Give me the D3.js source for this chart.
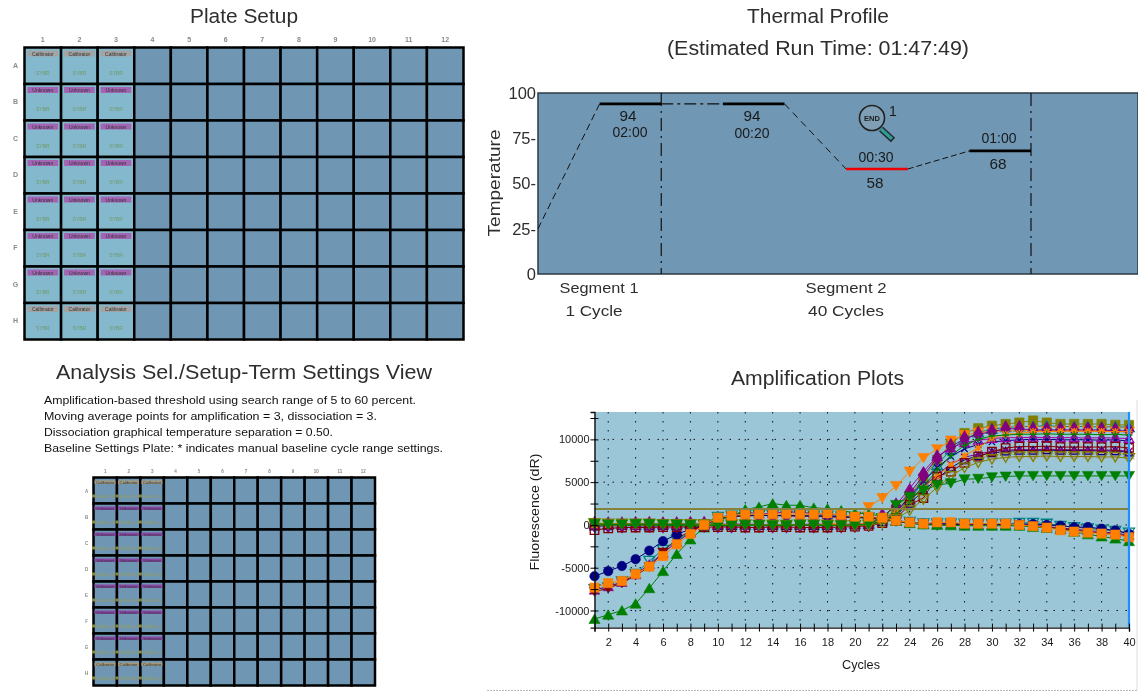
<!DOCTYPE html>
<html><head><meta charset="utf-8">
<script src="https://cdn.jsdelivr.net/npm/d3@7"></script>
<style>
html,body{margin:0;padding:0;background:#fff}
svg{display:block;filter:blur(0.55px)}
text{font-family:"Liberation Sans",Arial,sans-serif;fill:#1a1a1a}
</style></head><body>
<svg id="c" width="1138" height="693"></svg>
<script>
// ---------- data ----------
const plateRows = ["A","B","C","D","E","F","G","H"];
const plateCols = [1,2,3,4,5,6,7,8,9,10,11,12];
const usedCols = [1,2,3];
const rowWellTypes = ["Calibrator","Unknown","Unknown","Unknown","Unknown","Unknown","Unknown","Calibrator"];
const dyeName = "SYBR";
const settingsLines = [
 "Amplification-based threshold using search range of 5 to 60 percent.",
 "Moving average points for amplification = 3, dissociation = 3.",
 "Dissociation graphical temperature separation = 0.50.",
 "Baseline Settings Plate: * indicates manual baseline cycle range settings."];

const thermalSlots = [0,1,2,3,4,5,6,7,8];
const thermalTemps = [25,94,94,94,94,58,58,68,68];
const thermalTicks = [0,25,50,75,100];
const segmentBounds = [2,8];

const cycles = d3.range(1,41);
const ampMajorTicks = [-10000,-5000,0,5000,10000];
const ampMinorTicks = [-7500,-2500,2500,7500,12500];
const thresholdLevel = 1850;

const ampOliveSquare = [100,50,100,100,100,100,100,100,50,0,0,50,50,50,0,0,-50,-50,0,50,100,500,1800,3400,5500,7600,9500,10730,11300,11600,11800,11960,12200,11960,11800,11800,11800,11800,11700,11680];
const ampTealTri = [150,100,100,50,50,100,100,150,100,50,50,0,0,50,50,0,0,50,50,100,150,600,1500,3000,5000,7000,8800,10000,10800,11200,11400,11500,11500,11600,11500,11500,11500,11450,11500,11400];
const ampGreenPlus = [-50,0,-50,-50,0,-50,-50,-100,-50,0,0,-50,-50,-50,0,0,0,-50,-50,0,50,400,1300,2700,4500,6400,8100,9300,10000,10400,10500,10600,10600,10650,10600,10600,10600,10550,10600,10500];
const ampNavyX = [-100,-50,-50,0,0,-50,-50,0,0,-50,-100,-100,-50,-50,0,-50,-50,-100,-50,-50,50,500,1500,3300,5100,6700,8000,8900,9400,9700,9850,9950,10000,10000,9950,9950,9950,9900,9950,9800];
const ampOliveTriDown = [200,150,150,150,150,100,100,100,100,50,50,50,0,0,0,50,50,0,-50,-50,0,200,700,1700,3000,4400,5700,6700,7300,7700,7900,8000,8000,8050,8000,8000,8000,7950,7950,7800];
const ampGreyTri = [50,0,50,50,0,0,50,50,0,-50,-50,0,0,0,50,50,0,0,0,50,100,300,1000,2200,3700,5200,6500,7400,7900,8100,8250,8300,8300,8350,8300,8300,8300,8250,8300,8200];
const ampNavyTri = [-150,-100,-100,-100,-150,-100,-100,-100,-50,-100,-100,-50,-100,-100,-100,-50,-100,-100,-50,0,50,350,1200,2500,4000,5400,6700,7600,8100,8400,8600,8700,8700,8750,8700,8700,8700,8650,8650,8500];
const ampPurpleX = [0,-50,-50,0,0,0,-50,-50,0,0,50,50,0,0,0,50,0,0,50,50,100,400,1400,2900,4500,5900,7100,7900,8300,8600,8750,8800,8800,8850,8800,8800,8800,8750,8750,8600];
const ampRedSquare = [-600,-400,-300,-300,-300,-250,-250,-250,-250,-250,-250,-300,-300,-250,-250,-300,-300,-300,-250,-200,-100,200,800,2340,3150,5650,6240,7250,7990,8570,8980,9160,9150,9200,9100,9100,9100,9100,9150,9000];
const ampGreenTriDown = [100,50,50,100,100,50,50,0,0,-50,-50,0,0,-50,-50,0,0,-50,-50,0,100,800,2340,3310,4010,4680,4870,5340,5400,5580,5660,5730,5730,5730,5730,5730,5730,5730,5730,5730];
const ampMagentaTri = [50,50,0,0,50,50,50,0,0,50,100,100,50,50,50,50,100,50,50,100,200,900,2300,4300,6240,8000,9000,9600,9900,10100,10200,10200,10250,10200,10200,10200,10150,10200,10150,10100];
const ampOrangeTriDown = [-50,-50,-50,0,0,-50,0,0,-50,0,0,50,50,50,0,0,50,100,300,700,2100,3150,4560,6240,7830,8860,9860,10500,10800,10950,11000,11000,11050,11000,11000,11050,11000,11000,10950,10900];
const ampPurpleDiamond = [50,0,0,50,50,0,0,50,50,0,0,0,50,0,0,50,0,0,0,50,150,1000,2200,3700,5800,7830,9160,10060,10600,10900,11230,11250,11100,11100,11100,11100,11100,11100,11000,11000];
const ampOrangeStar = [0,50,0,-50,0,50,0,0,0,50,50,0,0,50,0,0,50,0,50,100,200,550,1500,2800,4300,5700,7000,8100,9000,10140,10600,10700,10900,10900,10950,10950,10950,10950,10900,10900];

const lowTealTri = [-7500,-7300,-6600,-5700,-4200,-2900,-1800,-800,100,950,1100,1150,1150,1150,1100,1150,1100,1100,1000,950,900,800,500,350,200,200,200,150,150,150,150,250,250,150,-100,-250,-400,-550,-700,-900];
const lowPurpleTri = [-7600,-7200,-6700,-5800,-4600,-3300,-2000,-900,0,800,1100,1500,1300,1350,1500,1500,1300,1250,1100,950,850,750,450,250,100,100,100,50,50,50,50,50,-50,-200,-350,-500,-650,-800,-950,-1200];
const lowRedTri = [-7800,-7400,-6800,-5900,-4900,-3200,-1600,-700,-50,700,950,1050,1100,1100,1050,1050,1000,950,900,850,800,700,400,200,50,0,0,0,0,0,0,0,-100,-250,-450,-600,-800,-950,-1100,-1300];
const lowNavyCircle = [-6000,-5400,-4800,-4000,-3000,-1900,-1100,-500,0,750,1000,1150,1100,1100,1100,1050,1050,1000,950,900,900,800,500,300,150,150,100,100,100,50,50,100,100,0,-100,-270,-250,-450,-650,-1050];
const lowGreenTri = [-11000,-10500,-10000,-9200,-7400,-5400,-3400,-1700,-300,600,1000,1800,2100,2500,2300,2300,2000,1900,1700,1400,1300,1000,500,200,50,0,-50,-100,-100,-100,-100,-100,-250,-350,-500,-800,-1100,-1350,-1600,-1900];
const lowOrangeSquare = [-7330,-6800,-6550,-5730,-4870,-3630,-2260,-1050,0,850,1090,1250,1250,1250,1300,1250,1250,1350,1170,970,970,850,500,310,150,310,310,150,150,150,150,0,-150,-310,-620,-780,-900,-1010,-1130,-1440];

// ---------- styles (separate from data) ----------
const triDown = {draw(ctx,s){const h=Math.sqrt(s*1.3);ctx.moveTo(-h*0.62,-h*0.5);ctx.lineTo(h*0.62,-h*0.5);ctx.lineTo(0,h*0.55);ctx.closePath();}};
const triUp = {draw(ctx,s){const h=Math.sqrt(s*1.3);ctx.moveTo(-h*0.62,h*0.5);ctx.lineTo(h*0.62,h*0.5);ctx.lineTo(0,-h*0.55);ctx.closePath();}};
const xMark = {draw(ctx,s){const r=Math.sqrt(s)/2;ctx.moveTo(-r,-r);ctx.lineTo(r,r);ctx.moveTo(r,-r);ctx.lineTo(-r,r);}};
const star = {draw(ctx,s){const r=Math.sqrt(s)/2;ctx.moveTo(-r,-r);ctx.lineTo(r,r);ctx.moveTo(r,-r);ctx.lineTo(-r,r);ctx.moveTo(0,-r*1.2);ctx.lineTo(0,r*1.2);ctx.moveTo(-r*1.2,0);ctx.lineTo(r*1.2,0);}};
const plus = {draw(ctx,s){const r=Math.sqrt(s)/2;ctx.moveTo(0,-r);ctx.lineTo(0,r);ctx.moveTo(-r,0);ctx.lineTo(r,0);}};
const seriesDraw = [
 [ampOliveSquare,"#808000",d3.symbolSquare,88,true],
 [ampTealTri,"#008080",triUp,55,false],
 [ampNavyX,"#000080",xMark,40,false],
 [ampGreyTri,"#a8a8a8",triUp,55,true],
 [ampNavyTri,"#000080",triUp,40,false],
 [ampPurpleX,"#800080",xMark,50,false],
 [ampMagentaTri,"#a000a0",triUp,45,false],
 [ampOrangeTriDown,"#ff8000",triDown,62,true],
 [lowTealTri,"#008080",triDown,60,false],
 [lowPurpleTri,"#800080",triUp,55,true],
 [lowRedTri,"#800000",triDown,55,true],
 [lowNavyCircle,"#000080",d3.symbolCircle,70,true],
 [lowGreenTri,"#008000",triUp,62,true],
 [ampPurpleDiamond,"#800080",d3.symbolDiamond,80,true],
 [ampOrangeStar,"#ff8000",star,36,false],
 [ampRedSquare,"#800000",d3.symbolSquare,72,false],
 [ampGreenPlus,"#008000",plus,45,false],
 [ampOliveTriDown,"#808000",triDown,62,false],
 [ampGreenTriDown,"#008000",triDown,62,true],
 [lowOrangeSquare,"#ff8000",d3.symbolSquare,85,true]
];

const svg = d3.select("#c");
function label(g,x,y,t,size,o={}){
  const el=g.append("text").attr("x",x).attr("y",y).attr("text-anchor",o.anchor||"middle")
   .style("font-size",size+"px").text(t);
  if(o.fill) el.style("fill",o.fill);
  if(o.weight) el.style("font-weight",o.weight);
  if(o.len) el.attr("textLength",o.len).attr("lengthAdjust","spacingAndGlyphs");
  if(o.rotate) el.attr("transform",`rotate(-90,${x},${y})`);
  return el;
}

// titles
const tc="#2e2e2e";
label(svg,244,23,"Plate Setup",20.5,{fill:tc,len:108});
label(svg,818,23,"Thermal Profile",20.5,{fill:tc,len:142});
label(svg,818,55,"(Estimated Run Time: 01:47:49)",20.5,{fill:tc,len:302});
label(svg,244,379,"Analysis Sel./Setup-Term Settings View",20.5,{fill:tc,len:376});
label(svg,817.5,385,"Amplification Plots",20.5,{fill:tc,len:173});
const settingsLens = [372,333,289,399];
const settingsY = d3.scalePoint().domain(settingsLines).range([404,452]);
settingsLines.forEach((l,i)=>label(svg,44,settingsY(l),l,11.5,{anchor:"start",fill:"#111",len:settingsLens[i]}));

// plates
function plate(x0,y0,w,h,o){
  const g=svg.append("g");
  const X=d3.scaleBand().domain(plateCols).range([x0,x0+w]);
  const Y=d3.scaleBand().domain(plateRows).range([y0,y0+h]);
  const gr="#8a8a8a";
  plateCols.forEach(c=>label(g,X(c)+X.bandwidth()/2,y0-o.colGap,c,o.hdr,{fill:gr,weight:"bold"}));
  plateRows.forEach(r=>label(g,x0-o.rowGap,Y(r)+Y.bandwidth()/2+2,r,o.hdr,{fill:gr,weight:"bold"}));
  plateRows.forEach((r,ri)=>plateCols.forEach(c=>{
    const x=X(c),y=Y(r),bw=X.bandwidth(),bh=Y.bandwidth();
    const used=usedCols.includes(c);
    g.append("rect").attr("x",x).attr("y",y).attr("width",bw).attr("height",bh)
      .attr("fill",used&&o.tint?"#84b8cc":"#6f97b4").attr("stroke","#000").attr("stroke-width",o.sw);
    if(!used) return;
    const t=rowWellTypes[ri];
    if(o.tint){
      g.append("rect").attr("x",x+3).attr("y",y+3).attr("width",bw-6).attr("height",6)
        .attr("fill",t==="Calibrator"?"#a3a3a3":"#a364b4");
      label(g,x+bw/2,y+8,t,5,{fill:"#333"});
      label(g,x+bw/2,y+27,dyeName,5,{fill:"#6f9a6a"});
    } else {
      g.append("rect").attr("x",x+1).attr("y",y+3).attr("width",bw-2).attr("height",3.5)
        .attr("fill",t==="Calibrator"?"#a39a80":"#8a48a8");
      label(g,x+bw/2,y+6,t,4.2,{fill:"#333"});
      g.append("rect").attr("x",x-1.5).attr("y",y+bh-9).attr("width",3).attr("height",3).attr("fill","#8a8a30");
      label(g,x+bw/2,y+bh-6,dyeName+" "+(ri+1)+".0",4.2,{fill:"#a09a50"});
    }
  }));
}
plate(24.5,47.5,439,292,{tint:true,sw:2.5,hdr:7,colGap:6,rowGap:9});
plate(93.5,477.5,281.5,208,{tint:false,sw:2.5,hdr:4.5,colGap:5,rowGap:7});

// thermal profile
const tx=d3.scaleLinear().domain([0,8]).range([538,1031]);
const ty=d3.scaleLinear().domain([0,100]).range([274,93]);
const tg=svg.append("g");
tg.append("rect").attr("x",tx(0)).attr("y",ty(100)).attr("width",600).attr("height",ty(0)-ty(100))
  .attr("fill","#7097b3").attr("stroke","#2b3a44").attr("stroke-width",1.5);
const tAxis=tg.append("g").attr("transform",`translate(${tx(0)-1},0)`)
  .call(d3.axisLeft(ty).tickValues(thermalTicks).tickSize(0).tickPadding(1)
    .tickFormat(v=>(v===0||v===100)?v:v+"-"));
tAxis.select(".domain").remove();
tAxis.selectAll("text").style("font-size","16.5px").style("font-family",'"Liberation Sans"').style("fill",tc);
label(tg,500,183,"Temperature",16.5,{rotate:true,len:107,fill:tc});
segmentBounds.forEach(s=>tg.append("line").attr("x1",tx(s)).attr("x2",tx(s)).attr("y1",ty(100)).attr("y2",ty(0))
  .attr("stroke","#111").attr("stroke-width",1.2).attr("stroke-dasharray","13 5 2 5"));
const pt=i=>[tx(thermalSlots[i]),ty(thermalTemps[i])];
const seg=(i,col,w,dash)=>{
  const a=pt(i),b=pt(i+1);
  const l=tg.append("line").attr("x1",a[0]).attr("y1",a[1]).attr("x2",b[0]).attr("y2",b[1]).attr("stroke",col).attr("stroke-width",w);
  if(dash) l.attr("stroke-dasharray",dash);
};
seg(0,"#111",1,"7 4");seg(1,"#000",2.6);seg(2,"#111",1.2,"12 4 3 4");seg(3,"#000",2.6);
seg(4,"#111",1,"7 5");seg(5,"#f00000",2.6);seg(6,"#111",1,"6 3");seg(7,"#000",2.6);
const tl=(x,y,t,len)=>label(tg,x,y,t,14.5,{len});
tl(628,121,"94",17);tl(630,137,"02:00",35);tl(752,121,"94",17);tl(752,138,"00:20",35);
tl(876,162,"00:30",35);tl(875,188,"58",17);tl(999,143,"01:00",35);tl(998,169,"68",17);
label(tg,599,293,"Segment 1",15,{len:79,fill:tc});label(tg,594,316,"1 Cycle",15,{len:57,fill:tc});
label(tg,846,293,"Segment 2",15,{len:81,fill:tc});label(tg,846,316,"40 Cycles",15,{len:76,fill:tc});
// END marker
tg.append("line").attr("x1",881).attr("y1",129).attr("x2",893).attr("y2",140).attr("stroke","#222").attr("stroke-width",6);
tg.append("line").attr("x1",881).attr("y1",129).attr("x2",892).attr("y2",139).attr("stroke","#2f9a98").attr("stroke-width",3.5);
tg.append("circle").attr("cx",872).attr("cy",118).attr("r",12.5).attr("fill","#7f9fb7").attr("stroke","#222").attr("stroke-width",1.6);
label(tg,872,121,"END",7.5,{weight:"bold"});
label(tg,893,116,"1",14);

// amplification plot
const ax=d3.scaleLinear().domain([1,40]).range([594.5,1129]);
const ay=d3.scaleLinear().domain([-12000,13200]).range([627.6,412]);
const ag=svg.append("g");
ag.append("rect").attr("x",ax(1)).attr("y",ay(13200)).attr("width",ax(40)-ax(1)).attr("height",ay(-12000)-ay(13200)).attr("fill","#9bc6d8");
const dots="1.5 7.5";
cycles.filter(c=>c%2===0&&c<40).forEach(c=>ag.append("line").attr("x1",ax(c)).attr("x2",ax(c)).attr("y1",ay(13200)).attr("y2",ay(-12000)).attr("stroke","#111").attr("stroke-width",1).attr("stroke-dasharray",dots));
ampMajorTicks.forEach(v=>ag.append("line").attr("x1",ax(1)).attr("x2",ax(40)).attr("y1",ay(v)).attr("y2",ay(v)).attr("stroke","#111").attr("stroke-width",1).attr("stroke-dasharray",dots));

const lineGen=d3.line().x((d,i)=>ax(cycles[i])).y(d=>ay(d));
const sg=ag.append("g");
seriesDraw.forEach(([vals,col,sym,size,filled])=>{
  sg.append("path").attr("d",lineGen(vals)).attr("fill","none").attr("stroke",col).attr("stroke-width",1);
  const open=(sym===xMark||sym===star||sym===plus);
  const path=d3.symbol().type(sym).size(size)();
  vals.forEach((v,i)=>sg.append("path").attr("d",path).attr("transform",`translate(${ax(cycles[i])},${ay(v)})`)
    .attr("fill",filled?col:"none").attr("stroke",col).attr("stroke-width",open?1.3:(filled?0.6:1.3)));
});
ag.append("line").attr("x1",ax(1)).attr("x2",ax(40)).attr("y1",ay(thresholdLevel)).attr("y2",ay(thresholdLevel)).attr("stroke","#85813f").attr("stroke-width",2);
ag.append("line").attr("x1",ax(40)).attr("x2",ax(40)).attr("y1",ay(13200)).attr("y2",ay(-12000)).attr("stroke","#1e8fff").attr("stroke-width",2.2);

const xAxis=ag.append("g").attr("transform",`translate(0,${ay(-12000)})`)
  .call(d3.axisBottom(ax).tickValues(cycles).tickSize(4).tickPadding(7).tickFormat(c=>c%2===0?c:""));
xAxis.selectAll(".tick line").attr("y1",-4);
const yAxis=ag.append("g").attr("transform",`translate(${ax(1)},0)`)
  .call(d3.axisLeft(ay).tickValues(ampMajorTicks.concat(ampMinorTicks)).tickSize(4).tickPadding(1).tickFormat(v=>ampMajorTicks.includes(v)?v:""));
yAxis.selectAll(".tick line").attr("x1",-4).attr("x2",4);
[xAxis,yAxis].forEach(a=>{
  a.selectAll("text").style("font-size","11px").style("font-family",'"Liberation Sans"');
  a.select(".domain").attr("stroke","#111").attr("stroke-width",1.4);
});
label(ag,539,512,"Fluorescence (dR)",13,{rotate:true,len:117});
label(ag,861,669,"Cycles",12.5,{len:38});

// image frame remnants
svg.append("line").attr("x1",487).attr("x2",1138).attr("y1",690.5).attr("y2",690.5).attr("stroke","#bbb").attr("stroke-dasharray","2 1");
svg.append("line").attr("x1",1137).attr("x2",1137).attr("y1",400).attr("y2",690).attr("stroke","#ddd");
</script></body></html>
